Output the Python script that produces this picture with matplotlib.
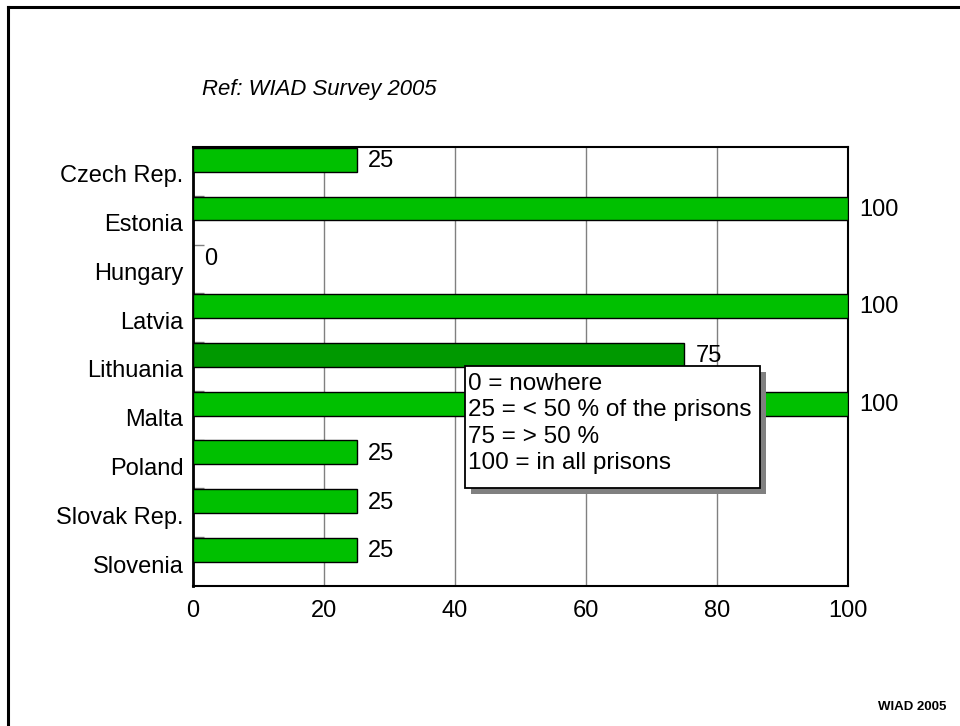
import matplotlib.pyplot as plt
from matplotlib.patches import Rectangle
from matplotlib.lines import Line2D
import numpy as np

plt.rcParams['font.family'] = ['Liberation Sans', 'DejaVu Sans']

# survey data
countries = ['Czech Rep.', 'Estonia', 'Hungary', 'Latvia', 'Lithuania',
             'Malta', 'Poland', 'Slovak Rep.', 'Slovenia']
scores = [25, 100, 0, 100, 75, 100, 25, 25, 25]
bar_colors = ['#00c000'] * 9
bar_colors[4] = '#009900'

legend_lines = ['0 = nowhere', '25 = < 50 % of the prisons',
                '75 = > 50 %', '100 = in all prisons']

W, H = 960, 726
fig = plt.figure(figsize=(W / 100, H / 100), dpi=100)


def px(x, y):
    # pixel position (from top left) -> figure fraction
    return x / W, 1 - y / H


ax = fig.add_axes([193 / W, 1 - 586 / H, (848 - 193) / W, (586 - 147) / H])

ypos = np.arange(len(countries))
ax.barh(ypos - 0.24, scores, height=0.49, color=bar_colors,
        edgecolor='black', linewidth=1, zorder=3)

for y, v in zip(ypos, scores):
    ax.annotate(str(v), (v, y - 0.24), xytext=(8, -1), textcoords='offset points',
                va='center', ha='left', fontsize=17, zorder=4)

ax.set_xlim(0, 100)
ax.set_ylim(len(countries) - 0.5, -0.5)
ax.set_xticks(range(0, 101, 20))
# category labels sit a touch below the band centre
ax.set_yticks(ypos + 0.05)
ax.set_yticklabels(countries)
ax.set_yticks(ypos - 0.5, minor=True)
ax.tick_params(axis='y', which='major', length=0, pad=7, labelsize=17)
ax.tick_params(axis='y', which='minor', length=8, direction='in',
               color='#808080', width=1)
ax.tick_params(axis='x', length=0, pad=10, labelsize=17)
ax.xaxis.grid(True, color='#808080', linewidth=1, zorder=0)
ax.set_axisbelow(True)
for s in ax.spines.values():
    s.set_linewidth(1.5)
ax.spines['left'].set_linewidth(2)

# legend box with shadow
x0, y0, x1, y1 = 465, 366, 760, 488
fx0, fy1 = px(x0, y1)
fw, fh = (x1 - x0) / W, (y1 - y0) / H
sx, sy = px(x0 + 6, y1 + 6)
fig.add_artist(Rectangle((sx, sy), fw, fh, transform=fig.transFigure,
                         facecolor='#808080', edgecolor='none', zorder=5))
fig.add_artist(Rectangle((fx0, fy1), fw, fh, transform=fig.transFigure,
                         facecolor='white', edgecolor='black', linewidth=1.3, zorder=6))
tx, ty = px(468, 373)
fig.text(tx, ty, '\n'.join(legend_lines), ha='left', va='top', fontsize=17.5,
         linespacing=1.26, zorder=7)

fig.text(*px(202, 90), 'Ref: WIAD Survey 2005', style='italic', fontsize=15.9,
         ha='left', va='center')
fig.text(*px(946, 707), 'WIAD 2005', fontweight='bold', fontsize=9.5,
         ha='right', va='center')

# outer frame (top and left edges)
lx, ty0 = px(8, 7)
fig.add_artist(Line2D([lx, 1], [ty0, ty0], transform=fig.transFigure,
                      color='black', linewidth=2.2))
fig.add_artist(Line2D([lx, lx], [0, ty0], transform=fig.transFigure,
                      color='black', linewidth=2.2))

fig.savefig('out.png', dpi=100)
